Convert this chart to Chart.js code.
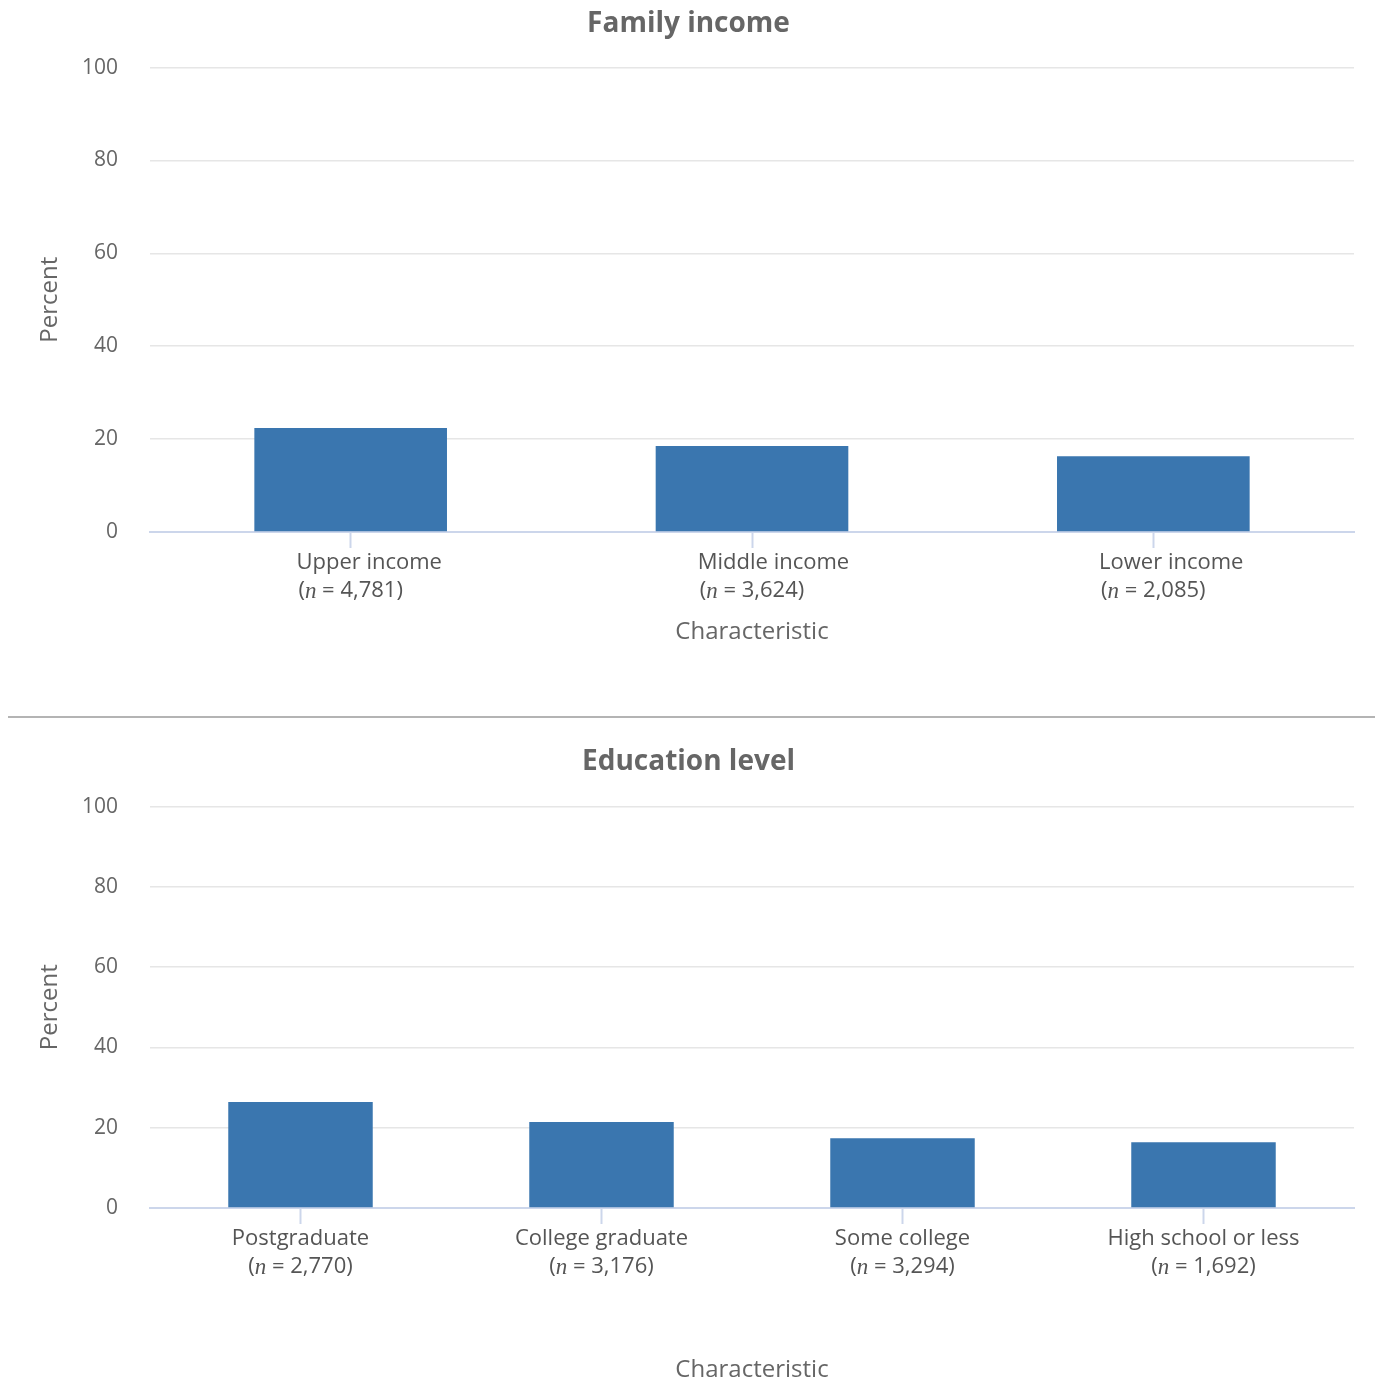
<!DOCTYPE html>
<html lang="en">
<head>
    <meta charset="UTF-8">
    <title>Family income and education level</title>
    <script src="https://cdn.jsdelivr.net/npm/chart.js"></script>
    <style>
        body {
            margin: 0;
            background-color: #ffffff;
            font-family: 'Open Sans', sans-serif;
        }
        .chart-box {
            position: absolute;
            left: 0;
            width: 1377px;
        }
        .divider {
            position: absolute;
            left: 8px;
            top: 716px;
            width: 1367px;
            height: 2px;
            background-color: #b4b4b4;
        }
    </style>
</head>
<body>

<div class="chart-box" style="top: 0;">
    <canvas id="incomeChart" width="1377" height="710"></canvas>
</div>
<div class="divider"></div>
<div class="chart-box" style="top: 720px;">
    <canvas id="educationChart" width="1377" height="662"></canvas>
</div>

<script>
    // Data
    const incomeCategories = ['Upper income', 'Middle income', 'Lower income'];
    const incomeSampleSizes = ['4,781', '3,624', '2,085'];
    const incomeValues = [22.4, 18.5, 16.3];

    const educationCategories = ['Postgraduate', 'College graduate', 'Some college', 'High school or less'];
    const educationSampleSizes = ['2,770', '3,176', '3,294', '1,692'];
    const educationValues = [26.4, 21.4, 17.4, 16.4];

    const percentTicks = [0, 20, 40, 60, 80, 100];

    const barColor = '#3a76af';
    const textColor = '#666666';
    const labelColor = '#555555';

    // draws the two-line category labels, "(n = ...)" with an italic n
    const categoryLabels = {
        id: 'categoryLabels',
        afterDraw(chart, args, opts) {
            const ctx = chart.ctx;
            const xScale = chart.scales.x;
            const baseFont = "22px 'Open Sans'";
            const italicFont = "italic 23px 'Liberation Serif'";
            ctx.save();
            ctx.fillStyle = labelColor;
            ctx.textBaseline = 'middle';
            ctx.textAlign = 'left';
            opts.names.forEach((name, i) => {
                const cx = xScale.getPixelForTick(i);
                const y1 = xScale.top + 31;
                const y2 = xScale.top + 59;

                ctx.font = baseFont;
                const wName = ctx.measureText(name).width;
                const wOpen = ctx.measureText('(').width;
                const wRest = ctx.measureText(' = ' + opts.sizes[i] + ')').width;
                ctx.font = italicFont;
                const wN = ctx.measureText('n').width;
                const w2 = wOpen + wN + wRest;

                let x1, x2;
                if (opts.align === 'left') {
                    x2 = cx - w2 / 2;
                    x1 = x2 - 2;
                } else {
                    x1 = cx - wName / 2;
                    x2 = cx - w2 / 2;
                }

                ctx.font = baseFont;
                ctx.fillText(name, x1, y1);
                ctx.fillText('(', x2, y2);
                ctx.font = italicFont;
                ctx.fillText('n', x2 + wOpen, y2 + 1);
                ctx.font = baseFont;
                ctx.fillText(' = ' + opts.sizes[i] + ')', x2 + wOpen + wN, y2);
            });
            ctx.restore();
        }
    };

    function makeChart(canvasId, title, categories, sizes, values, cfg) {
        const ctx = document.getElementById(canvasId).getContext('2d');
        return new Chart(ctx, {
            type: 'bar',
            data: {
                labels: categories,
                datasets: [{
                    label: 'Percent',
                    data: values,
                    backgroundColor: barColor,
                    borderWidth: 0,
                    barPercentage: 0.48,
                    categoryPercentage: 1.0
                }]
            },
            options: {
                responsive: false,
                animation: false,
                layout: {
                    padding: { left: 0, right: 0, top: 0, bottom: cfg.bottomPad }
                },
                plugins: {
                    legend: { display: false },
                    tooltip: { enabled: false },
                    title: {
                        display: true,
                        text: title,
                        color: textColor,
                        font: { family: 'Open Sans', size: 28, weight: 'bold', lineHeight: 1.2 },
                        padding: { top: cfg.titleTop, bottom: cfg.titleBottom }
                    },
                    categoryLabels: {
                        names: categories,
                        sizes: sizes,
                        align: cfg.align
                    }
                },
                scales: {
                    x: {
                        offset: true,
                        grid: {
                            offset: false,
                            drawOnChartArea: false,
                            drawTicks: true,
                            tickLength: 16,
                            tickWidth: 2,
                            tickColor: '#ccd6eb'
                        },
                        border: { color: '#ccd6eb', width: 2 },
                        ticks: { display: false },
                        title: {
                            display: true,
                            text: 'Characteristic',
                            color: textColor,
                            font: { family: 'Open Sans', size: 24, lineHeight: 1.0 },
                            padding: { top: 0, bottom: 0 }
                        },
                        afterFit(scale) {
                            scale.height = cfg.xAxisHeight;
                        }
                    },
                    y: {
                        min: 0,
                        max: 100,
                        afterBuildTicks(scale) {
                            scale.ticks = percentTicks.map(v => ({ value: v }));
                        },
                        grid: {
                            color: '#e6e6e6',
                            lineWidth: 1.5,
                            drawTicks: false
                        },
                        border: { display: false },
                        ticks: {
                            color: textColor,
                            padding: 32,
                            font: { family: 'Open Sans', size: 21 }
                        },
                        title: {
                            display: true,
                            text: 'Percent',
                            color: textColor,
                            font: { family: 'Open Sans', size: 24, lineHeight: 1.0 },
                            padding: { top: 38, bottom: 0 }
                        },
                        afterFit(scale) {
                            scale.width = 150;
                        }
                    },
                    // empty right-hand spacer so the title centres on the full width
                    spacer: {
                        type: 'linear',
                        position: 'right',
                        display: true,
                        grid: { display: false },
                        border: { display: false },
                        ticks: { display: false },
                        afterFit(scale) {
                            scale.width = 23;
                        }
                    }
                }
            },
            plugins: [categoryLabels]
        });
    }

    makeChart('incomeChart', 'Family income', incomeCategories, incomeSampleSizes, incomeValues, {
        titleTop: 7, titleBottom: 27, bottomPad: 66, xAxisHeight: 112, align: 'left'
    });

    makeChart('educationChart', 'Education level', educationCategories, educationSampleSizes, educationValues, {
        titleTop: 25, titleBottom: 28, bottomPad: 0, xAxisHeight: 174, align: 'center'
    });
</script>
</body>
</html>
